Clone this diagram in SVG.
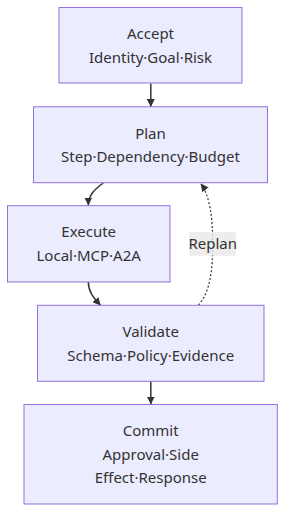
<svg xmlns="http://www.w3.org/2000/svg" width="293" height="526" viewBox="0 0 293 526">
<style>
.node rect{fill:#ECECFF;stroke:#9370DB;stroke-width:1px;}
.node text,.lbl text{font-family:"Noto Sans","DejaVu Sans",sans-serif;font-size:15px;fill:#333333;text-anchor:middle;}
.edge{fill:none;stroke:#333333;stroke-width:1.5px;}
.dotted{stroke-dasharray:2 2;stroke-width:1.2px;}
</style>
<defs>
<marker id="arrow" viewBox="0 0 10 10" refX="10" refY="5" markerWidth="8" markerHeight="8" markerUnits="userSpaceOnUse" orient="auto">
<path d="M0,0 L10,5 L0,10 z" fill="#333333"/>
</marker>
</defs>
<g id="connectors">
<path class="edge" d="M150.8,83.5 L150.8,107" marker-end="url(#arrow)"/>
<path class="edge" d="M103.3,183 C95,189 88.3,195 88.3,205.5" marker-end="url(#arrow)"/>
<path class="edge" d="M88.3,282 C88.3,292 94,298 100.7,305.5" marker-end="url(#arrow)"/>
<path class="edge dotted" d="M198.3,305 C210,293 212.7,270 212.7,244 C212.7,218 210,196 200.7,183.5" marker-end="url(#arrow)"/>
<path class="edge" d="M150.8,381.5 L150.8,404.5" marker-end="url(#arrow)"/>
</g>
<g id="label-replan" class="lbl">
<rect x="189.3" y="232" width="46.7" height="23.7" fill="#E8E8E8" fill-opacity="0.8"/>
<text x="212.7" y="249">Replan</text>
</g>
<g id="node-accept" class="node">
<rect x="59" y="7.5" width="183" height="75.5"/>
<text x="150.5" y="39">Accept</text>
<text x="150.5" y="62.5">Identity·Goal·Risk</text>
</g>
<g id="node-plan" class="node">
<rect x="33.5" y="106.8" width="234" height="75.9"/>
<text x="150.5" y="138.5">Plan</text>
<text x="150.5" y="162">Step·Dependency·Budget</text>
</g>
<g id="node-execute" class="node">
<rect x="7.5" y="205.7" width="162.5" height="76.3"/>
<text x="88.7" y="237">Execute</text>
<text x="88.7" y="261">Local·MCP·A2A</text>
</g>
<g id="node-validate" class="node">
<rect x="37.5" y="305.3" width="226.5" height="76"/>
<text x="150.7" y="337">Validate</text>
<text x="150.7" y="360.5">Schema·Policy·Evidence</text>
</g>
<g id="node-commit" class="node">
<rect x="24" y="404.5" width="253.3" height="99.5"/>
<text x="150.7" y="436">Commit</text>
<text x="150.7" y="459.5">Approval·Side</text>
<text x="150.7" y="483">Effect·Response</text>
</g>
</svg>
